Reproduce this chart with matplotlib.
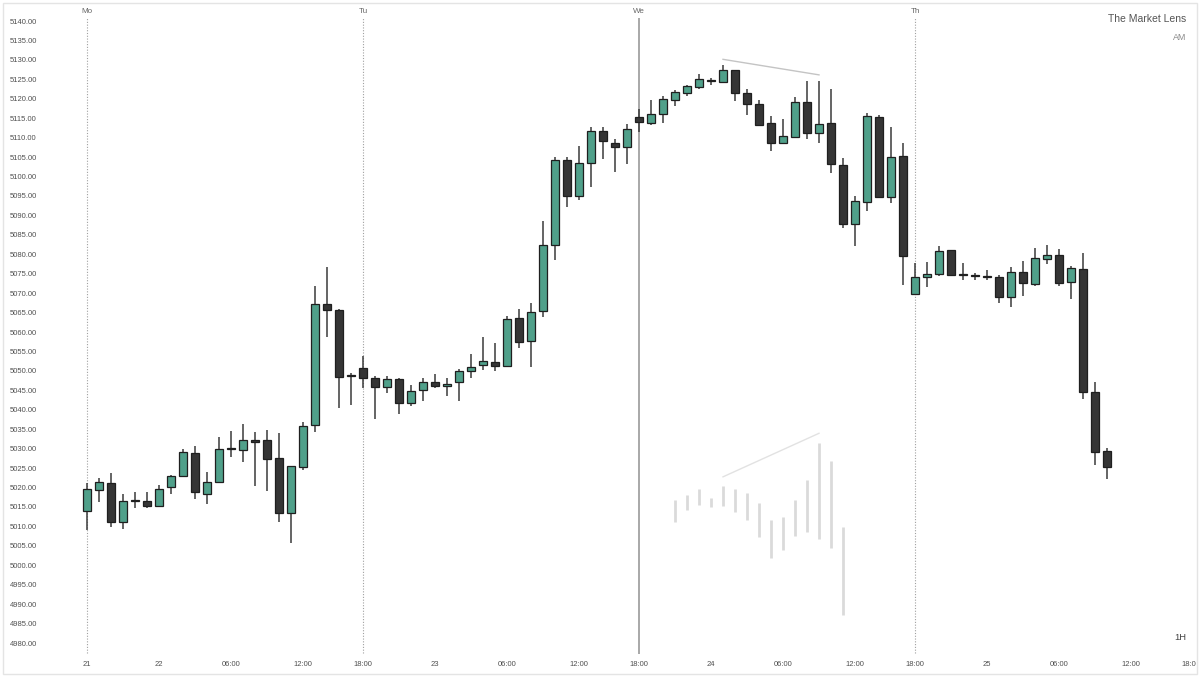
import matplotlib
matplotlib.use("Agg")
import matplotlib.pyplot as plt
import matplotlib.transforms as mtransforms
from matplotlib.patches import Rectangle
import numpy as np

plt.rcParams['font.family'] = ['Liberation Sans', 'DejaVu Sans']

# hourly candles, index 0 = Mo session open
opens = [5014.3, 5019.7, 5021.5, 5011.5, 5016.8, 5016.7, 5015.4, 5020.3, 5023.2, 5029.2,
         5018.7, 5021.8, 5030.2, 5030.0, 5032.6, 5032.4, 5027.8, 5013.6, 5025.6, 5036.3,
         5067.4, 5065.9, 5049.0, 5051.1, 5048.3, 5046.0, 5048.1, 5042.1, 5045.4, 5047.5,
         5046.4, 5047.3, 5050.1, 5051.7, 5052.6, 5051.5, 5063.8, 5058.0, 5065.6, 5082.6,
         5104.4, 5095.3, 5103.8, 5112.0, 5109.0, 5107.9, 5115.5, 5114.1, 5116.4, 5119.9,
         5121.7, 5123.4, 5125.2, 5124.6, 5127.6, 5121.7, 5118.9, 5113.9, 5108.8, 5110.5,
         5119.5, 5111.4, 5113.9, 5103.2, 5088.0, 5093.8, 5115.6, 5095.1, 5105.5, 5070.1,
         5074.4, 5075.2, 5081.3, 5074.8, 5074.7, 5074.4, 5074.3, 5069.2, 5075.7, 5072.6,
         5079.1, 5080.1, 5073.0, 5076.4, 5044.8, 5029.6]
highs = [5021.3, 5022.8, 5023.9, 5018.7, 5019.0, 5019.0, 5021.0, 5023.6, 5030.2, 5030.9,
         5024.2, 5033.3, 5034.8, 5036.7, 5034.5, 5035.0, 5034.3, 5025.7, 5037.2, 5072.1,
         5077.1, 5066.3, 5049.6, 5054.1, 5049.0, 5049.0, 5048.5, 5046.5, 5048.3, 5049.5,
         5048.5, 5050.7, 5054.6, 5059.0, 5057.3, 5064.4, 5066.3, 5067.6, 5088.8, 5105.4,
         5105.4, 5108.1, 5113.1, 5113.1, 5109.8, 5113.8, 5117.5, 5119.9, 5121.0, 5122.5,
         5123.8, 5126.6, 5125.6, 5128.9, 5127.7, 5122.7, 5119.9, 5115.7, 5115.0, 5120.7,
         5124.7, 5124.7, 5122.7, 5105.1, 5095.3, 5116.7, 5116.0, 5113.1, 5109.0, 5078.0,
         5078.2, 5082.4, 5081.4, 5077.9, 5075.5, 5076.2, 5074.8, 5076.9, 5078.4, 5081.8,
         5082.6, 5081.5, 5077.2, 5080.7, 5047.5, 5030.3]
lows = [5009.2, 5016.4, 5010.0, 5009.6, 5014.9, 5014.9, 5015.3, 5018.5, 5023.1, 5017.3,
        5016.1, 5021.5, 5028.2, 5026.9, 5020.6, 5019.4, 5011.5, 5006.1, 5024.8, 5034.6,
        5058.9, 5040.8, 5041.6, 5045.9, 5038.0, 5044.5, 5039.1, 5041.2, 5042.6, 5045.8,
        5043.8, 5042.6, 5048.5, 5050.4, 5050.1, 5051.3, 5056.2, 5051.3, 5064.0, 5078.8,
        5092.3, 5094.2, 5097.6, 5104.7, 5101.5, 5103.6, 5111.8, 5113.5, 5114.1, 5118.4,
        5121.0, 5122.8, 5123.7, 5124.5, 5119.7, 5116.0, 5113.4, 5106.9, 5108.7, 5110.1,
        5110.0, 5108.8, 5101.1, 5086.9, 5082.4, 5091.5, 5095.0, 5093.4, 5072.4, 5070.0,
        5071.8, 5074.7, 5074.7, 5073.6, 5073.6, 5073.6, 5067.6, 5066.8, 5069.4, 5072.1,
        5077.7, 5072.2, 5068.8, 5043.0, 5026.1, 5022.4]
closes = [5020.0, 5021.8, 5011.3, 5016.9, 5016.8, 5015.4, 5020.0, 5023.2, 5029.4, 5019.0,
          5021.8, 5030.2, 5030.2, 5032.6, 5031.9, 5027.6, 5013.6, 5025.7, 5036.1, 5067.4,
          5065.8, 5048.6, 5049.0, 5048.3, 5046.0, 5048.1, 5042.1, 5045.0, 5047.3, 5046.4,
          5047.0, 5050.1, 5051.2, 5052.7, 5051.6, 5063.5, 5057.8, 5065.3, 5082.6, 5104.4,
          5095.3, 5103.8, 5112.0, 5109.4, 5107.9, 5112.4, 5114.4, 5116.4, 5120.1, 5121.9,
          5123.5, 5125.3, 5124.7, 5127.6, 5121.7, 5119.0, 5113.6, 5108.8, 5110.6, 5119.3,
          5111.4, 5113.7, 5103.4, 5088.0, 5094.0, 5115.7, 5095.1, 5105.4, 5079.9, 5074.4,
          5075.3, 5081.0, 5074.8, 5074.8, 5074.7, 5074.4, 5069.2, 5075.8, 5072.9, 5079.2,
          5080.1, 5072.8, 5076.6, 5044.8, 5029.5, 5025.6]

# faint mirrored ranges under Wednesday
ghost_idx = [49, 50, 51, 52, 53, 54, 55, 56, 57, 58, 59, 60, 61, 62, 63]
ghost_hi = [5017.0, 5018.4, 5020.0, 5017.5, 5020.6, 5019.9, 5018.9, 5016.3, 5011.9, 5012.6,
            5017.0, 5022.2, 5031.6, 5027.1, 5010.2]
ghost_lo = [5011.5, 5014.5, 5015.8, 5015.2, 5015.5, 5014.0, 5011.9, 5007.6, 5002.0, 5004.2,
            5007.9, 5008.9, 5007.0, 5004.8, 4987.5]

# trend lines (bar index, price)
top_line_x = [53, 61]
top_line_y = [5130.4, 5126.4]
low_line_x = [53, 61]
low_line_y = [5023.0, 5034.2]

# session separators
sessions = [0, 23, 46, 69]
session_names = ['Mo', 'Tu', 'We', 'Th']

y_ticks = np.arange(4980, 5141, 5)
x_tick_pos = [0, 6, 12, 18, 23, 29, 35, 41, 46, 52, 58, 64, 69, 75, 81, 87, 92]
x_tick_labels = ['21', '22', '06:00', '12:00', '18:00', '23', '06:00', '12:00', '18:00',
                 '24', '06:00', '12:00', '18:00', '25', '06:00', '12:00', '18:00']

green = '#50a08a'
dark = '#353535'
edge = '#1f1f1f'

fig = plt.figure(figsize=(12, 6.8), dpi=100)
ax = fig.add_axes([0, 0, 1, 1])
ax.set_xlim(-7.25, 92.75)
ax.set_ylim(4970.74, 5145.66)
ax.axis('off')

x = np.arange(len(opens))
o = np.array(opens)
c = np.array(closes)

# wicks
ax.vlines(x, lows, highs, color='#3a3a3a', linewidth=1.1, zorder=2)

# bodies
up = c > o
body_bottom = np.minimum(o, c)
body_h = np.maximum(np.abs(c - o), 0.3)
colors = [green if u else dark for u in up]
ax.bar(x, body_h, bottom=body_bottom, width=0.67, color=colors,
       edgecolor=edge, linewidth=0.9, zorder=3)

# ghost ranges and trend lines
ax.vlines(ghost_idx, ghost_lo, ghost_hi, color='#dadada', linewidth=2.0, zorder=1)
ax.plot(top_line_x, top_line_y, color='#c4c4c4', linewidth=1.0, zorder=1)
ax.plot(low_line_x, low_line_y, color='#e2e2e2', linewidth=1.0, zorder=1)

# session lines
for s, name in zip(sessions, session_names):
    if name == 'We':
        ax.vlines(s, 4977.4, 5141.0, color='#9a9a9a', linewidth=1.2, zorder=0)
    else:
        ax.vlines(s, 4977.7, 5141.0, color='#a0a0a0', linewidth=0.8,
                  linestyles=(0, (1, 1.5)), zorder=0)
    ax.text(s, 5142.8, name, ha='center', va='center', fontsize=5.8, color='#666666')

# price labels on the left
ytrans = mtransforms.blended_transform_factory(ax.transAxes, ax.transData)
for v in y_ticks:
    ax.text(10 / 1200, v, f"{v:.2f}", transform=ytrans, ha='left', va='center',
            fontsize=5.5, color='#505050')

# time labels along the bottom, cut at the frame on the right
clip = mtransforms.Bbox.from_extents(0, 0, 1196, 680)
xtrans = mtransforms.blended_transform_factory(ax.transData, ax.transAxes)
for p, lab in zip(x_tick_pos, x_tick_labels):
    t = ax.text(p, 1 - 664 / 680, lab, transform=xtrans, ha='center', va='center',
                fontsize=5.5, color='#505050')
    t.set_clip_box(clip)
    t.set_clip_on(True)

ax.text(1186 / 1200, 1 - 19 / 680, 'The Market Lens', transform=ax.transAxes,
        ha='right', va='center', fontsize=7.5, color='#555555')
ax.text(1186 / 1200, 1 - 38 / 680, 'AM', transform=ax.transAxes,
        ha='right', va='center', fontsize=6.4, color='#8a8a8a')
ax.text(1186 / 1200, 1 - 637 / 680, '1H', transform=ax.transAxes,
        ha='right', va='center', fontsize=6.8, color='#444444')

# light outer frame
fig.patches.append(Rectangle((3 / 1200, 6 / 680), 1194 / 1200, 671 / 680,
                             transform=fig.transFigure, fill=False,
                             edgecolor='#e4e4e4', linewidth=1.0))

fig.savefig('out.png', dpi=100, facecolor='white')
